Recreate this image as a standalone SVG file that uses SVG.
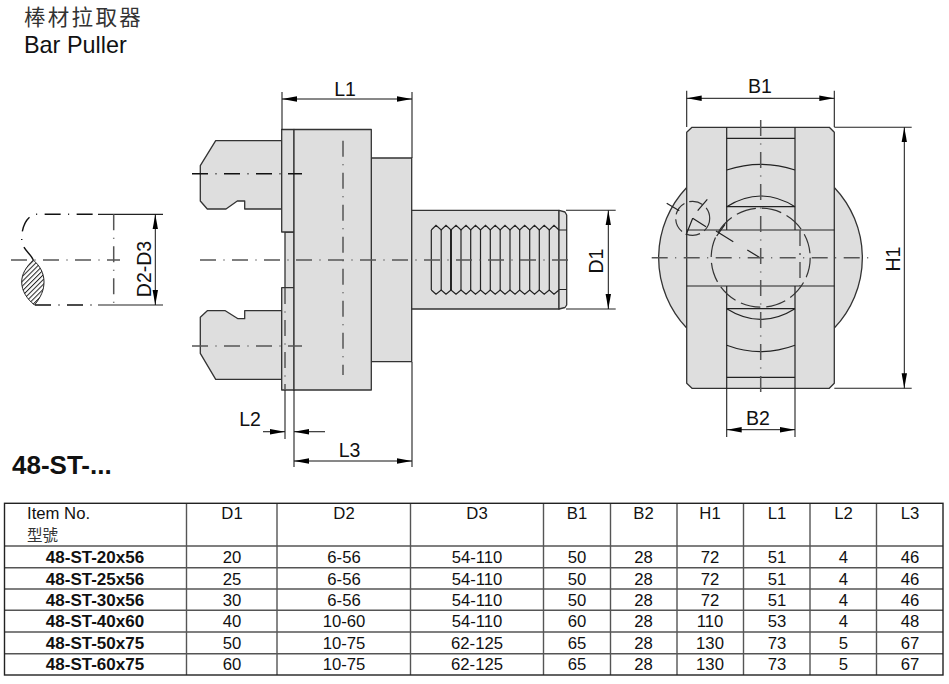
<svg xmlns="http://www.w3.org/2000/svg" width="949" height="684" viewBox="0 0 949 684">
<style>
text{font-family:"Liberation Sans","Noto Sans CJK TC",sans-serif;fill:#111}
.cjk{font-family:"Noto Sans CJK TC","Liberation Sans",sans-serif;fill:#333}
.part{fill:#dedede;stroke:#333;stroke-width:1.3;stroke-linejoin:round}
.ln{fill:none;stroke:#222;stroke-width:1.2}
.gl{fill:none;stroke:#555;stroke-width:1.5}
.cl{fill:none;stroke:#555;stroke-width:1.5;stroke-dasharray:16 7.5 1 7.5}
.clk{fill:none;stroke:#111;stroke-width:1.4;stroke-dasharray:16 7.5 1 7.5}
.dh{fill:none;stroke:#333;stroke-width:1.2;stroke-dasharray:20 6}
.dim{fill:none;stroke:#111;stroke-width:1;marker-start:url(#arr);marker-end:url(#arr)}
.ext{fill:none;stroke:#222;stroke-width:1.1}
.d{font-size:19.5px;text-anchor:middle}
.r{font-size:16.7px;text-anchor:middle}
.b{font-size:17px;font-weight:bold;text-anchor:middle}
.tb{fill:none;stroke:#555;stroke-width:1.4}
.to{fill:none;stroke:#222;stroke-width:1.4}
</style>
<defs>
<marker id="arr" markerUnits="userSpaceOnUse" markerWidth="15" markerHeight="7" refX="15" refY="3.5" orient="auto-start-reverse"><path d="M0,0.8L15,3.5L0,6.2Z" fill="#000"/></marker>
<pattern id="hatch" patternUnits="userSpaceOnUse" width="3.4" height="3.4" patternTransform="rotate(-45)"><rect width="3.4" height="1" fill="#222"/></pattern>
</defs>

<g id="title">
<text class="cjk" x="24" y="25" font-size="21.5" letter-spacing="2.3">棒材拉取器</text>
<text x="24" y="53" font-size="23.4">Bar Puller</text>
<text x="12" y="474" font-size="26" font-weight="bold">48-ST-...</text>
</g>

<g id="workpiece">
<path d="M33.3,260C30,252 21.7,250 21.7,238C21.7,226 28,214.3 36.7,214.3H98" class="clk"/>
<path d="M35,305H98" class="clk"/>
<path d="M98,214.3H163M98,305H163" class="ln"/>
<path d="M33.3,260C26,267 21.7,274 21.7,282C21.7,291 27,299 34.5,305C41,297 44,290 44,282C44,273 40,266 33.3,260Z" fill="url(#hatch)" stroke="#222" stroke-width="1"/>
<path d="M113.7,214.3V305" class="cl"/>
</g>

<g id="jaw-upper">
<path class="part" d="M282,140.7H215.7L200.3,165.7V201L207.3,209H226L237.3,201H244.7V209H282Z"/>
</g>
<g id="jaw-lower">
<path class="part" d="M282,310.7H244.7V318.7H238L225.3,310.7H207.3L200.3,317.3V353.3L215.7,379.3H282Z"/>
</g>
<g id="body">
<rect class="part" x="285" y="232" width="9" height="56"/>
<rect class="part" x="281.7" y="129.5" width="12.3" height="102.5"/>
<rect class="part" x="281.7" y="287.7" width="12.3" height="102.3"/>
<rect class="part" x="371.3" y="158" width="40.4" height="203.7"/>
<rect class="part" x="294" y="129.5" width="77.3" height="260.5"/>
</g>
<g id="shank">
<rect class="part" x="411.7" y="210.3" width="147.3" height="98.7"/>
<path class="part" d="M559,210.3L565,212L566.7,215V305L565,307.5L559,309Z"/>
<path class="ln" d="M559,230H566.7M559,289.5H566.7"/>
<path class="ln" d="M431.3,230L436,225.3L441.2,230L446,225.3L451,230L456,225.3L461,230L466,225.3L470.7,230L475.5,225.3L480.5,230L485.5,225.3L490.3,230L495.2,225.3L500.2,230L505,225.3L510,230L515,225.3L519.7,230L524.7,225.3L529.7,230L534.5,225.3L539.3,230L544.2,225.3L549.3,230L554,225.3L559,230"/>
<path class="ln" d="M431.3,290L436,294.3L441.2,290L446,294.3L451,290L456,294.3L461,290L466,294.3L470.7,290L475.5,294.3L480.5,290L485.5,294.3L490.3,290L495.2,294.3L500.2,290L505,294.3L510,290L515,294.3L519.7,290L524.7,294.3L529.7,290L534.5,294.3L539.3,290L544.2,294.3L549.3,290L554,294.3L559,290"/>
<path class="ln" d="M431.3,230V290M441.2,230V290M461,230V290M470.7,230V290M480.5,230V290M490.3,230V290M500.2,230V290M510,230V290M519.7,230V290M529.7,230V290M539.3,230V290M549.3,230V290"/>
<path d="M451,230V290" fill="none" stroke="#111" stroke-width="1.8"/>
</g>

<g id="side-view">
<path class="part" d="M686.7,187.5A102,102 0 0 0 686.7,328"/>
<path class="part" d="M834.3,187.5A102,102 0 0 1 834.3,328"/>
<path class="part" stroke="#444" d="M692,127.3H829.3L834.3,132.3V383.3L829.3,388.3H692L686.7,383.3V132.3Z"/>
<path class="ln" d="M726.7,127.3V230M795,127.3V230M726.7,286V388.3M795,286V388.3"/>
<path class="ln" d="M686.7,230H834.3M686.7,286H834.3"/>
<path class="ln" d="M726.7,138.3H795M726.7,206.7H795M726.7,308.7H795M726.7,377.3H795"/>
<path class="ln" d="M726.7,170Q760.8,158.6 795,170M726.7,206.7Q760.8,185.3 795,206.7M726.7,308.7Q760.8,330 795,308.7M726.7,345.3Q760.8,358 795,345.3"/>
<circle class="dh" cx="760.7" cy="257.7" r="49.5"/>
<circle class="dh" cx="692.7" cy="218.3" r="17" style="stroke-dasharray:14 5"/>
<path class="gl" d="M800,230V286" stroke-dasharray="16 7 2 7"/>
<path class="ln" d="M760,257.7L747.3,250M733.3,241.7L716,231M725,224.3L716.7,236M692.7,218.3L706,226.7M692.7,218.3L686,235M666.7,203.3L679.3,210.7M707.3,199.3L697.7,210.7"/>
</g>

<g id="connectors">
<path class="cl" d="M11,260H120M200,260H570"/>
<path class="cl" d="M343,140.7V375"/>
<path class="clk" d="M192,173.7H302"/>
<path class="cl" d="M192,346H302"/>
<path class="cl" d="M285,288V390"/>
<path class="cl" d="M760.7,120V395"/>
<path class="cl" d="M651.7,257.7H870"/>
<path class="ext" d="M282,92V130M412,92V158M294,390V467M285,390V439M566,210.3H615.7M566,309H615.7M686.7,90.7V127M834.3,90.7V127M834.3,127.3H911.7M834.3,388.3H911.7M726.7,388V437M795,388V437M412,362V467"/>
<path class="dim" d="M282,99H412"/>
<path class="dim" d="M294,461H412"/>
<path d="M263,431.7H285" class="ext" marker-end="url(#arr)"/>
<path d="M325,431.7H294" class="ext" marker-end="url(#arr)"/>
<path class="dim" d="M155.3,214.3V305"/>
<path class="dim" d="M608.3,210.3V309"/>
<path class="dim" d="M686.7,98.3H834.3"/>
<path class="dim" d="M904.3,127.3V388.3"/>
<path class="dim" d="M726.7,429.7H795"/>
</g>

<g id="dimension-labels">
<text class="d" x="345" y="96">L1</text>
<text class="d" x="250" y="426">L2</text>
<text class="d" x="349.5" y="457">L3</text>
<text class="d" x="760" y="93">B1</text>
<text class="d" x="758" y="424.5">B2</text>
<text class="d" transform="translate(603,261) rotate(-90)">D1</text>
<text class="d" transform="translate(150.5,269) rotate(-90)">D2-D3</text>
<text class="d" transform="translate(900,259) rotate(-90)">H1</text>
</g>

<g id="table">
<path class="tb" d="M4.5,546H943M4.5,567.7H943M4.5,589H943M4.5,610.3H943M4.5,632H943M4.5,653.7H943"/>
<path class="tb" d="M186.5,503.3V675M277,503.3V675M410.5,503.3V675M543.5,503.3V675M610.5,503.3V675M677,503.3V675M743.5,503.3V675M810,503.3V675M876.5,503.3V675"/>
<rect class="to" x="4.5" y="503.3" width="938.5" height="171.7"/>
<text x="27" y="519" font-size="16.7">Item No.</text>
<text class="cjk" x="27" y="541" font-size="15.5">型號</text>
<g id="header">
<text class="r" x="232" y="519">D1</text><text class="r" x="344" y="519">D2</text><text class="r" x="477" y="519">D3</text><text class="r" x="577" y="519">B1</text><text class="r" x="643.5" y="519">B2</text><text class="r" x="710" y="519">H1</text><text class="r" x="777" y="519">L1</text><text class="r" x="843.5" y="519">L2</text><text class="r" x="910" y="519">L3</text>
</g>
<g id="row-1"><text class="b" x="95" y="563.3">48-ST-20x56</text><text class="r" x="232" y="563.3">20</text><text class="r" x="344" y="563.3">6-56</text><text class="r" x="477" y="563.3">54-110</text><text class="r" x="577" y="563.3">50</text><text class="r" x="643.5" y="563.3">28</text><text class="r" x="710" y="563.3">72</text><text class="r" x="777" y="563.3">51</text><text class="r" x="843.5" y="563.3">4</text><text class="r" x="910" y="563.3">46</text></g>
<g id="row-2"><text class="b" x="95" y="584.5">48-ST-25x56</text><text class="r" x="232" y="584.5">25</text><text class="r" x="344" y="584.5">6-56</text><text class="r" x="477" y="584.5">54-110</text><text class="r" x="577" y="584.5">50</text><text class="r" x="643.5" y="584.5">28</text><text class="r" x="710" y="584.5">72</text><text class="r" x="777" y="584.5">51</text><text class="r" x="843.5" y="584.5">4</text><text class="r" x="910" y="584.5">46</text></g>
<g id="row-3"><text class="b" x="95" y="606">48-ST-30x56</text><text class="r" x="232" y="606">30</text><text class="r" x="344" y="606">6-56</text><text class="r" x="477" y="606">54-110</text><text class="r" x="577" y="606">50</text><text class="r" x="643.5" y="606">28</text><text class="r" x="710" y="606">72</text><text class="r" x="777" y="606">51</text><text class="r" x="843.5" y="606">4</text><text class="r" x="910" y="606">46</text></g>
<g id="row-4"><text class="b" x="95" y="627">48-ST-40x60</text><text class="r" x="232" y="627">40</text><text class="r" x="344" y="627">10-60</text><text class="r" x="477" y="627">54-110</text><text class="r" x="577" y="627">60</text><text class="r" x="643.5" y="627">28</text><text class="r" x="710" y="627">110</text><text class="r" x="777" y="627">53</text><text class="r" x="843.5" y="627">4</text><text class="r" x="910" y="627">48</text></g>
<g id="row-5"><text class="b" x="95" y="648.5">48-ST-50x75</text><text class="r" x="232" y="648.5">50</text><text class="r" x="344" y="648.5">10-75</text><text class="r" x="477" y="648.5">62-125</text><text class="r" x="577" y="648.5">65</text><text class="r" x="643.5" y="648.5">28</text><text class="r" x="710" y="648.5">130</text><text class="r" x="777" y="648.5">73</text><text class="r" x="843.5" y="648.5">5</text><text class="r" x="910" y="648.5">67</text></g>
<g id="row-6"><text class="b" x="95" y="670">48-ST-60x75</text><text class="r" x="232" y="670">60</text><text class="r" x="344" y="670">10-75</text><text class="r" x="477" y="670">62-125</text><text class="r" x="577" y="670">65</text><text class="r" x="643.5" y="670">28</text><text class="r" x="710" y="670">130</text><text class="r" x="777" y="670">73</text><text class="r" x="843.5" y="670">5</text><text class="r" x="910" y="670">67</text></g>
</g>
</svg>
